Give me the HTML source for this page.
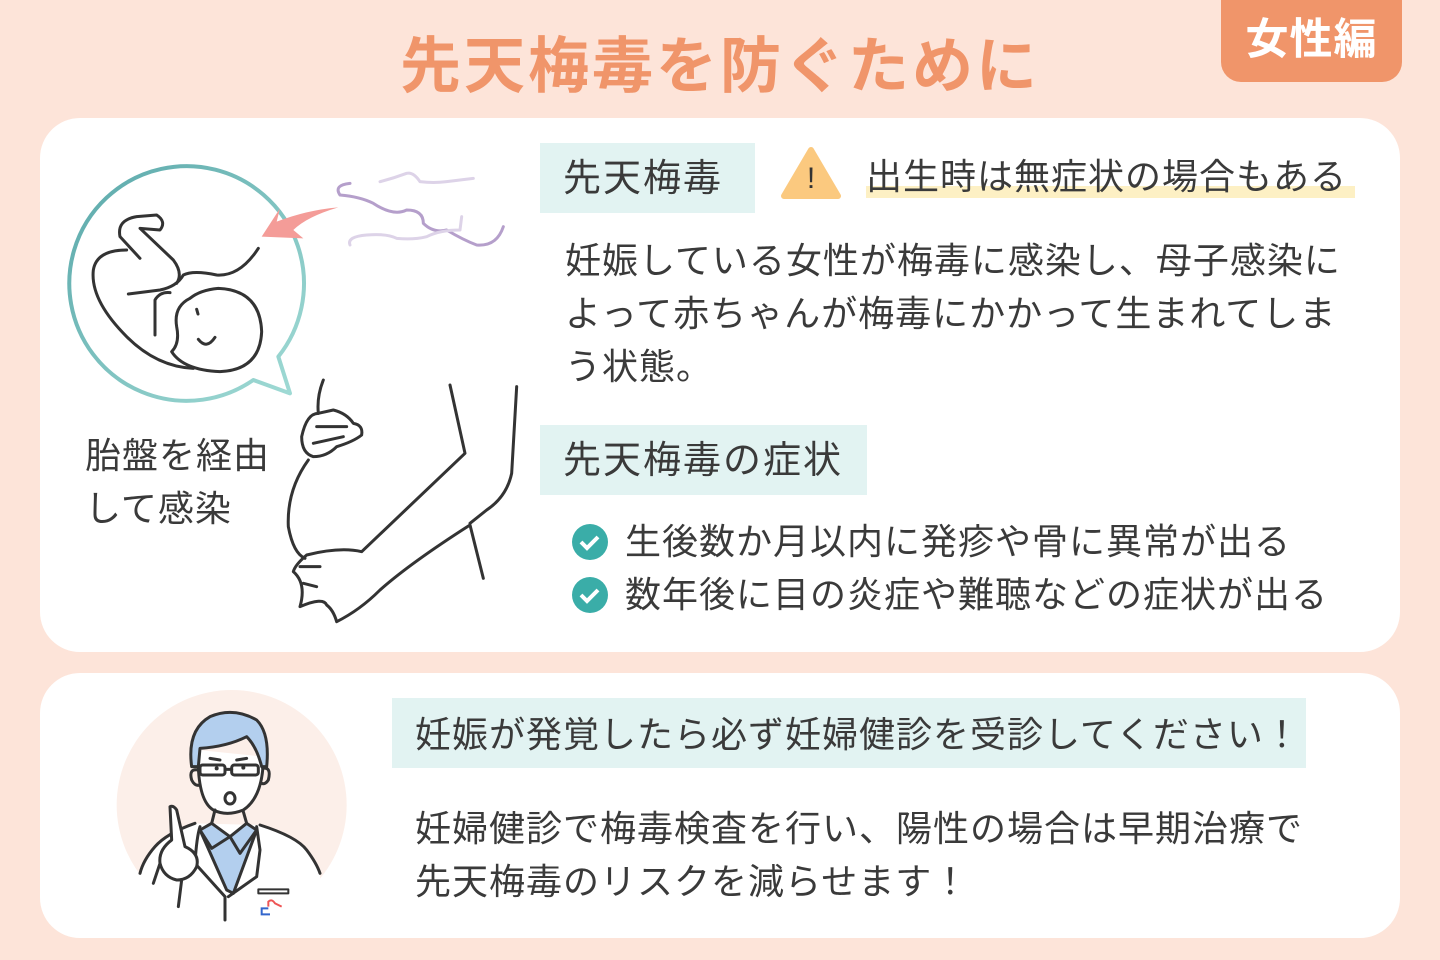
<!DOCTYPE html>
<html><head><meta charset="utf-8">
<style>
*{margin:0;padding:0;box-sizing:border-box}
body{width:1440px;height:960px;background:#fde4d9;position:relative;overflow:hidden;font-family:"Liberation Sans","Noto Sans CJK JP",sans-serif;color:#3a3a3a}
.a{position:absolute;white-space:nowrap}
.card{position:absolute;background:#fff;border-radius:40px}
.lbl{position:absolute;background:#e2f3f2}
.t{font-size:36px;letter-spacing:1px;line-height:53px}
</style></head><body>
<div class="a" style="left:400px;top:28px;font-size:61px;font-weight:bold;letter-spacing:3px;color:#f0956a;line-height:76px">先天梅毒を防ぐために</div>
<div class="a" style="left:1221px;top:0;width:181px;height:82px;background:#f0956a;border-radius:0 0 20px 20px;color:#fff;font-size:43px;font-weight:bold;text-align:center;line-height:80px;letter-spacing:1px">女性編</div>

<div class="card" style="left:40px;top:118px;width:1360px;height:534px"></div>
<div class="card" style="left:40px;top:673px;width:1360px;height:265px"></div>

<div class="lbl" style="left:540px;top:143px;width:215px;height:70px"></div>
<div class="a" style="left:563px;top:151px;font-size:38px;letter-spacing:2px;line-height:56px">先天梅毒</div>
<svg class="a" style="left:780px;top:146px" width="62" height="54"><path d="M31 4 L58 50 L4 50 Z" fill="#fbc97f" stroke="#fbc97f" stroke-width="6" stroke-linejoin="round"/><text x="31" y="42" font-size="30" text-anchor="middle" fill="#333" font-family="Liberation Sans">!</text></svg>
<div class="a" style="left:866px;top:186px;width:489px;height:12px;background:#fdf0c4"></div>
<div class="a" style="left:866px;top:149px;font-size:36px;letter-spacing:1px;line-height:56px">出生時は無症状の場合もある</div>
<div class="a t" style="left:565px;top:234px">妊娠している女性が梅毒に感染し、母子感染に<br>よって赤ちゃんが梅毒にかかって生まれてしま<br>う状態。</div>

<div class="lbl" style="left:540px;top:425px;width:327px;height:70px"></div>
<div class="a" style="left:563px;top:433px;font-size:38px;letter-spacing:2px;line-height:56px">先天梅毒の症状</div>
<svg class="a" style="left:570px;top:522px" width="40" height="94"><circle cx="20" cy="20" r="18" fill="#3aada8"/><path d="M11 20 l6 6 l11 -11" stroke="#fff" stroke-width="4" fill="none"/><circle cx="20" cy="73" r="18" fill="#3aada8"/><path d="M11 73 l6 6 l11 -11" stroke="#fff" stroke-width="4" fill="none"/></svg>
<div class="a t" style="left:625px;top:515px">生後数か月以内に発疹や骨に異常が出る<br>数年後に目の炎症や難聴などの症状が出る</div>

<div class="a t" style="left:85px;top:429px">胎盤を経由<br>して感染</div>

<svg class="a" style="left:60px;top:150px" width="470" height="480" viewBox="0 0 1410 1440" fill="none" stroke="#333" stroke-width="9" stroke-linecap="round" stroke-linejoin="round">
<defs><linearGradient id="g" x1="0" y1="0" x2="1" y2="1"><stop offset="0" stop-color="#5aa8aa"/><stop offset="1" stop-color="#a2dcd6"/></linearGradient></defs>
<path d="M655 620 A352 352 0 1 0 580 690 L690 730 Z" stroke="url(#g)" stroke-width="12" fill="#fff"/>
<path d="M595 295 Q540 380 470 375 Q400 360 370 375 Q350 410 300 420 L205 432"/>
<path d="M240 325 L180 260 Q170 210 230 200 L290 195 Q320 215 300 240 L240 235 L340 330 Q370 370 350 400"/>
<path d="M200 300 Q110 300 100 360 Q90 450 200 560 Q290 650 400 655"/>
<path d="M390 445 Q340 470 350 530 Q360 580 335 605 Q370 660 480 665 Q600 660 605 545 Q600 420 475 415 Q420 420 390 445"/>
<path d="M410 478 L414 492 M415 568 Q440 600 465 562"/>
<path d="M285 555 L285 450 Q300 425 330 428"/>
<path d="M605 260 L660 175 L650 215 Q740 180 835 172 Q740 200 700 240 L730 265 Z" fill="#f49c98" stroke="none"/>
<path d="M870 100 Q820 105 840 135 Q900 140 940 160 Q1000 200 1040 180 Q1090 180 1090 220 Q1120 250 1160 240 Q1210 270 1250 285 Q1310 290 1330 230" stroke="#b59fcb"/>
<path d="M960 95 Q1000 85 1040 70 Q1060 65 1080 95 Q1120 100 1160 95 Q1200 90 1240 85" stroke="#ddd3e8"/>
<path d="M870 285 Q860 260 920 255 Q980 250 1010 265 Q1060 270 1100 260 Q1140 240 1200 240 L1205 200" stroke="#ddd3e8"/>
<path d="M790 690 Q770 740 775 790"/>
<path d="M745 930 Q680 1020 685 1130 Q700 1210 735 1225"/>
<path d="M775 790 Q740 790 725 860 Q725 910 760 920 Q800 920 830 890 Q880 875 905 855 Q910 825 880 820 Q860 790 820 780 Z M770 830 L860 830 M760 880 L850 860"/>
<path d="M1170 705 L1215 910 L905 1205 Q840 1190 740 1215 Q705 1245 700 1265 Q740 1300 720 1370 Q790 1340 800 1365 Q820 1380 830 1415 Q900 1380 960 1320 Q1050 1240 1230 1125 L1270 1285"/>
<path d="M1370 710 L1355 970 Q1340 1040 1280 1080 L1230 1120 M720 1250 L780 1250 M730 1300 L770 1310"/>
</svg>

<svg class="a" style="left:100px;top:690px" width="260" height="240" viewBox="0 0 780 720">
<circle cx="395" cy="345" r="345" fill="#fcefe9"/>
<path d="M120 720 L120 550 Q130 510 165 470 Q200 430 285 400 L480 405 Q590 440 620 480 Q650 520 660 550 L660 720 Z" fill="#fff"/>
<g stroke="#333" stroke-width="9" fill="none" stroke-linecap="round" stroke-linejoin="round">
<path d="M300 420 L335 400 L390 440 L440 400 L470 420 L400 610 L380 600 Z" fill="#b3cfee"/>
<path d="M300 420 L335 475 L390 440 L420 490 L470 420"/>
<path d="M295 180 Q290 330 340 360 Q380 380 430 360 Q490 320 490 200" fill="#fff"/>
<path d="M275 230 Q260 120 330 80 Q400 50 470 90 Q510 130 500 230 L485 230 Q470 170 440 140 Q380 170 300 175 L295 230 Z" fill="#b3cfee"/>
<path d="M295 240 Q265 235 275 270 Q285 290 300 285 M488 235 Q515 230 505 270 Q495 285 485 280"/>
<rect x="300" y="225" width="75" height="30" rx="8"/><rect x="395" y="225" width="80" height="30" rx="8"/>
<path d="M375 238 L395 238 M330 205 L360 210 M410 210 L440 205"/>
<ellipse cx="390" cy="325" rx="15" ry="17"/>
<path d="M345 360 L335 400 M430 365 L440 400"/>
<path d="M300 410 Q290 440 285 520 L375 620 L375 690 M470 410 L480 480 L470 560 L385 620"/>
<path d="M285 400 Q200 430 165 470 Q130 510 120 550 M480 405 Q590 440 620 480 Q650 520 660 550"/>
<path d="M210 350 Q220 345 230 360 L255 470 Q300 490 290 530 Q270 570 230 570 Q190 560 180 520 Q175 480 215 450 Z M180 520 L160 580 M245 570 L235 650" fill="#fff"/>
<rect x="475" y="598" width="90" height="12" stroke-width="6"/>
</g>
<circle cx="350" cy="235" r="6" fill="#333"/><circle cx="430" cy="233" r="6" fill="#333"/>
<path d="M505 650 L505 635 Q515 625 525 640 L545 650" stroke="#e55" stroke-width="6" fill="none"/><path d="M505 655 h-20 v18 h25" stroke="#36c" stroke-width="6" fill="none"/>
</svg>

<div class="lbl" style="left:392px;top:698px;width:914px;height:70px"></div>
<div class="a t" style="left:415px;top:708px">妊娠が発覚したら必ず妊婦健診を受診してください！</div>
<div class="a t" style="left:415px;top:802px">妊婦健診で梅毒検査を行い、陽性の場合は早期治療で<br>先天梅毒のリスクを減らせます！</div>
</body></html>
